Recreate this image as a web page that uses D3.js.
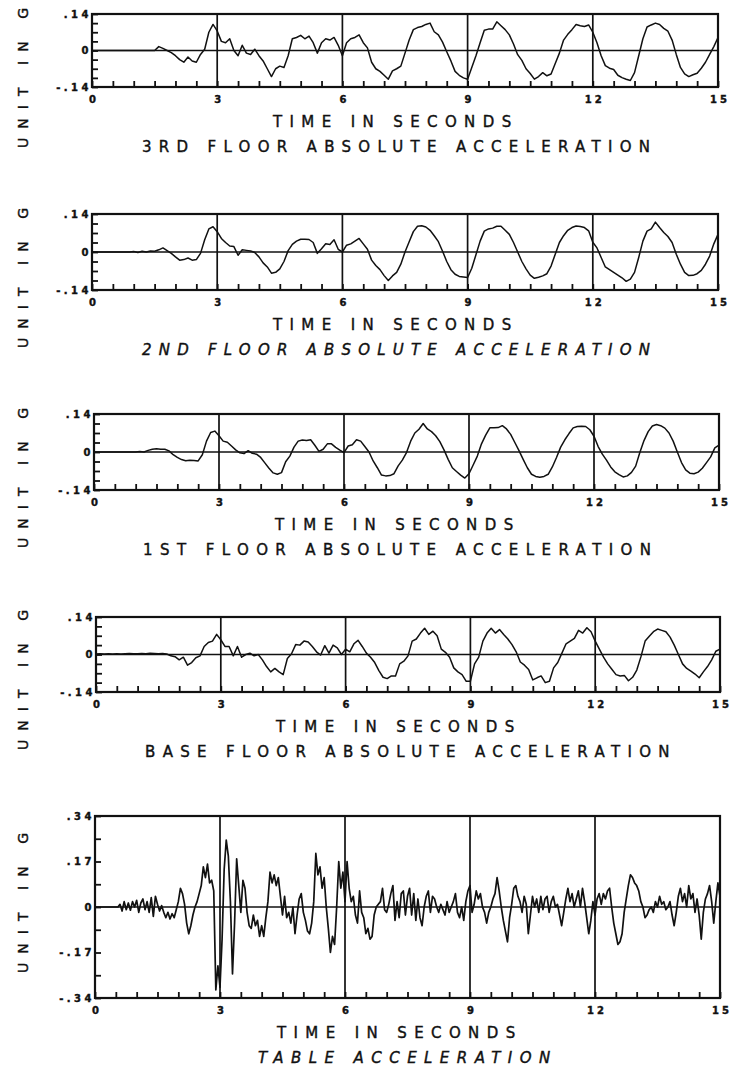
<!DOCTYPE html>
<html>
<head>
<meta charset="utf-8">
<script src="https://cdn.jsdelivr.net/npm/d3@7"></script>
<style>
  body { margin: 0; background: #fff; }
  text { font-family: "DejaVu Sans", sans-serif; fill: #111; stroke: #111; stroke-width: 0.4; }
</style>
</head>
<body>
<svg id="chart" width="738" height="1069"></svg>
<script>
// acceleration records (unit: g)
// floor records are sampled every 0.1 s, the table record every 0.05 s
var floorStep = 0.1
var tableStep = 0.05

var floor3 = [
  0, 0, 0, 0, 0, 0, 0, 0, 0, 0,
  0, 0, 0, 0, 0, 0, 0.015, 0.008, 0.0, -0.008,
  -0.02, -0.035, -0.045, -0.025, -0.04, -0.045, -0.015, 0.005, 0.07, 0.1,
  0.075, 0.035, 0.03, 0.045, 0.0, -0.02, 0.02, -0.01, -0.015, 0.005,
  -0.02, -0.04, -0.07, -0.1, -0.07, -0.06, -0.065, -0.02, 0.045, 0.05,
  0.058, 0.045, 0.055, 0.03, -0.01, 0.03, 0.045, 0.04, 0.05, 0.02,
  -0.02, 0.03, 0.045, 0.05, 0.06, 0.03, 0.01, -0.045, -0.07, -0.08,
  -0.095, -0.11, -0.078, -0.07, -0.06, -0.01, 0.04, 0.08, 0.088, 0.092,
  0.1, 0.105, 0.072, 0.06, 0.032, -0.005, -0.04, -0.08, -0.095, -0.105,
  -0.11, -0.065, -0.02, 0.03, 0.078, 0.082, 0.082, 0.11, 0.095, 0.08,
  0.06, 0.025, -0.016, -0.038, -0.07, -0.088, -0.11, -0.1, -0.085, -0.097,
  -0.09, -0.05, -0.01, 0.04, 0.062, 0.08, 0.1, 0.095, 0.092, 0.098,
  0.07, 0.03, -0.02, -0.058, -0.068, -0.073, -0.095, -0.104, -0.11, -0.115,
  -0.085, -0.02, 0.045, 0.09, 0.098, 0.105, 0.1, 0.085, 0.074, 0.04,
  -0.015, -0.065, -0.09, -0.1, -0.093, -0.087, -0.068, -0.045, -0.015, 0.015,
  0.05
]

var floor2 = [
  0, 0, 0, 0, 0, 0, 0, 0, 0, 0,
  0.002, -0.002, 0.003, 0.0, 0.004, 0.003, 0.008, 0.015, 0.005, -0.005,
  -0.018, -0.03, -0.028, -0.022, -0.03, -0.028, -0.005, 0.045, 0.085, 0.093,
  0.075, 0.05, 0.035, 0.022, 0.02, -0.012, 0.008, 0.006, 0.004, -0.002,
  -0.018, -0.04, -0.055, -0.078, -0.075, -0.062, -0.035, 0.005, 0.028, 0.04,
  0.047, 0.047, 0.046, 0.035, -0.005, 0.012, 0.03, 0.028, 0.045, 0.01,
  0.0, 0.025, 0.03, 0.04, 0.05, 0.03, 0.01, -0.03, -0.05, -0.065,
  -0.087, -0.105, -0.088, -0.075, -0.045, 0.0, 0.038, 0.075, 0.095, 0.097,
  0.092, 0.08, 0.06, 0.038, 0.003, -0.035, -0.065, -0.082, -0.09, -0.092,
  -0.094, -0.06, -0.01, 0.04, 0.077, 0.085, 0.088, 0.095, 0.095, 0.08,
  0.065, 0.035, 0.0, -0.035, -0.062, -0.085, -0.097, -0.093, -0.088, -0.08,
  -0.052, -0.008, 0.035, 0.06, 0.08, 0.09, 0.096, 0.094, 0.09, 0.078,
  0.036, 0.015, -0.02, -0.055, -0.065, -0.075, -0.085, -0.095, -0.108, -0.1,
  -0.075, -0.02, 0.04, 0.077, 0.085, 0.11, 0.09, 0.072, 0.057, 0.035,
  -0.008, -0.045, -0.075, -0.087, -0.086, -0.08, -0.068, -0.045, -0.015, 0.03,
  0.065
]

var floor1 = [
  0, 0, 0, 0, 0, 0, 0, 0, 0, 0,
  0, 0.002, 0.0, 0.006, 0.01, 0.012, 0.01, 0.01, 0.004, -0.01,
  -0.02, -0.028, -0.032, -0.03, -0.031, -0.033, -0.01, 0.04, 0.072, 0.077,
  0.06, 0.04, 0.036, 0.022, 0.008, -0.003, -0.006, 0.005, -0.005, -0.008,
  -0.02, -0.04, -0.06, -0.077, -0.082, -0.076, -0.036, -0.015, 0.018, 0.04,
  0.044, 0.042, 0.045, 0.025, 0.002, 0.01, 0.03, 0.03, 0.017, 0.007,
  -0.002, 0.022, 0.027, 0.045, 0.04, 0.02, 0.0, -0.033, -0.058, -0.085,
  -0.088, -0.087, -0.08, -0.051, -0.03, -0.002, 0.04, 0.07, 0.084, 0.105,
  0.085, 0.075, 0.06, 0.038, 0.008, -0.027, -0.058, -0.072, -0.085, -0.096,
  -0.08, -0.048, -0.015, 0.03, 0.062, 0.089, 0.089, 0.09, 0.097, 0.085,
  0.065, 0.035, 0.005, -0.027, -0.058, -0.082, -0.09, -0.093, -0.09, -0.082,
  -0.055, -0.02, 0.018, 0.045, 0.068, 0.089, 0.094, 0.095, 0.094, 0.082,
  0.058, 0.02, -0.008, -0.03, -0.055, -0.073, -0.083, -0.092, -0.088, -0.075,
  -0.052, -0.002, 0.042, 0.075, 0.096, 0.101, 0.097, 0.088, 0.07, 0.04,
  0.0, -0.039, -0.066, -0.078, -0.08, -0.074, -0.06, -0.039, -0.018, 0.015,
  0.025
]

var floorBase = [
  0.002, 0.003, 0.002, 0.003, 0.002, 0.003, 0.002, 0.003, 0.004, 0.003,
  0.003, 0.004, 0.003, 0.005, 0.004, 0.003, 0.004, 0.002, -0.005, -0.008,
  -0.02, -0.01, -0.04, -0.03, -0.012, -0.005, 0.03, 0.045, 0.05, 0.075,
  0.055, 0.03, 0.03, -0.005, 0.03, -0.01, 0.0, 0.005, -0.005, 0.0,
  -0.02, -0.045, -0.065, -0.052, -0.065, -0.075, -0.015, 0.003, 0.037, 0.035,
  0.05, 0.047, 0.03, 0.01, -0.002, 0.033, 0.005, 0.035, 0.025, 0.0,
  0.02, 0.01, 0.04, 0.053, 0.03, 0.005, -0.01, -0.03, -0.06, -0.085,
  -0.09, -0.08, -0.08, -0.035, -0.025, -0.005, 0.05, 0.058, 0.08, 0.098,
  0.075, 0.087, 0.07, 0.02, 0.008, -0.01, -0.05, -0.065, -0.075, -0.1,
  -0.1, -0.035, -0.01, 0.05, 0.08, 0.098, 0.08, 0.093, 0.075, 0.058,
  0.037, 0.01, -0.028, -0.04, -0.056, -0.095, -0.087, -0.08, -0.105, -0.1,
  -0.05, -0.03, 0.005, 0.04, 0.05, 0.06, 0.09, 0.08, 0.1, 0.085,
  0.05, 0.02, -0.01, -0.035, -0.055, -0.075, -0.08, -0.078, -0.098, -0.085,
  -0.058, -0.008, 0.05, 0.068, 0.085, 0.095, 0.09, 0.085, 0.065, 0.035,
  0.0, -0.035, -0.052, -0.062, -0.073, -0.087, -0.065, -0.045, -0.02, 0.012,
  0.02
]

var table = [
  0, 0, 0, 0, 0, 0, 0, 0, 0, 0, 0, 0, 0.01, -0.015, 0.02, -0.01, 0.015, -0.012, 0.02, 0.0,
  0.025, -0.02, 0.015, 0.03, -0.01, 0.02, -0.02, 0.035, -0.035, 0.04, 0.01, -0.015, 0.005, -0.02, -0.04, -0.02, -0.045, -0.025, -0.04, -0.01,
  0.02, 0.07, 0.05, 0.01, -0.06, -0.1, -0.07, -0.03, 0.0, 0.02, 0.05, 0.08, 0.15, 0.11, 0.16, 0.09, 0.1, 0.06, -0.31, -0.22,
  -0.3, -0.12, 0.14, 0.25, 0.19, 0.02, -0.25, -0.06, 0.18, 0.08, -0.02, 0.1, 0.07, -0.02, -0.07, -0.08, -0.03, -0.07, -0.05, -0.11,
  -0.07, -0.11, -0.04, 0.02, 0.13, 0.09, 0.12, 0.08, 0.11, 0.04, -0.03, 0.04, -0.04, -0.02, -0.06, 0.0, -0.1, -0.03, 0.03, 0.05,
  -0.02, -0.05, -0.09, -0.1, -0.06, 0.02, 0.2, 0.12, 0.15, 0.07, 0.11, 0.0, -0.08, -0.17, -0.11, -0.14, 0.0, 0.17, 0.07, 0.13,
  0.02, 0.17, 0.07, 0.02, 0.04, -0.03, -0.06, 0.06, -0.02, -0.04, -0.1, -0.08, -0.12, -0.11, -0.03, 0.0, 0.01, 0.02, 0.07, -0.01,
  -0.02, 0.01, 0.05, 0.08, -0.05, 0.02, -0.04, 0.05, 0.06, -0.03, 0.04, 0.07, -0.03, 0.05, -0.05, 0.03, -0.04, -0.07, 0.0, 0.04,
  0.06, -0.02, 0.04, 0.03, 0.0, -0.02, 0.01, -0.01, -0.03, 0.02, -0.02, 0.0, 0.02, 0.05, -0.02, -0.04, 0.0, -0.05, 0.02, 0.06,
  0.08, -0.02, 0.01, 0.06, 0.03, 0.05, 0.0, -0.02, -0.06, -0.02, 0.0, 0.03, 0.05, 0.11, 0.06, 0.0, -0.05, -0.09, -0.13, -0.04,
  0.01, 0.07, 0.08, 0.04, 0.02, -0.02, 0.04, 0.01, -0.1, -0.03, 0.04, 0.0, 0.03, -0.02, 0.04, -0.01, 0.03, 0.04, -0.02, 0.02,
  0.04, 0.0, 0.01, -0.03, -0.07, -0.02, 0.03, 0.07, 0.02, 0.05, 0.0, 0.03, 0.06, 0.0, 0.07, 0.02, -0.04, -0.1, -0.05, 0.02,
  -0.03, 0.03, 0.05, 0.01, 0.05, 0.03, 0.06, 0.07, 0.0, -0.06, -0.1, -0.14, -0.13, -0.1, -0.02, 0.03, 0.08, 0.12, 0.11, 0.09,
  0.08, 0.06, 0.02, 0.0, -0.04, -0.03, -0.01, 0.0, -0.02, 0.02, 0.0, 0.04, 0.01, 0.02, -0.01, 0.0, 0.02, -0.03, -0.07, -0.02,
  0.04, 0.07, 0.02, 0.05, 0.0, 0.08, 0.03, 0.05, -0.02, 0.03, -0.03, -0.12, -0.02, 0.03, 0.05, 0.08, 0.02, -0.06, 0.02, 0.09,
  0.04
]

// axis labels
var xLabelValues = [0, 3, 6, 9, 12, 15]
var xLabels = ["0", "3", "6", "9", "12", "15"]
var gridTimes = [3, 6, 9, 12]
var floorYValues = [0.14, 0, -0.14]
var floorYLabels = [".14", "0", "-.14"]
var tableYValues = [0.34, 0.17, 0, -0.17, -0.34]
var tableYLabels = [".34", ".17", "0", "-.17", "-.34"]
var titles = [
  "3RD FLOOR ABSOLUTE ACCELERATION",
  "2ND FLOOR ABSOLUTE ACCELERATION",
  "1ST FLOOR ABSOLUTE ACCELERATION",
  "BASE FLOOR ABSOLUTE ACCELERATION",
  "TABLE ACCELERATION"
]

// layout of each panel on the page
var panels = [
  {values: floor3, step: floorStep, max: 0.14, yv: floorYValues, yl: floorYLabels, top: 14, bottom: 87, left: 92, right: 718, titleX: 142, timeX: 273, unitY: 78, italic: false},
  {values: floor2, step: floorStep, max: 0.14, yv: floorYValues, yl: floorYLabels, top: 214, bottom: 290, left: 92, right: 718, titleX: 142, timeX: 273, unitY: 278, italic: true},
  {values: floor1, step: floorStep, max: 0.14, yv: floorYValues, yl: floorYLabels, top: 414, bottom: 490, left: 94, right: 719, titleX: 143, timeX: 275, unitY: 478, italic: false},
  {values: floorBase, step: floorStep, max: 0.14, yv: floorYValues, yl: floorYLabels, top: 617, bottom: 692, left: 96, right: 720, titleX: 145, timeX: 276, unitY: 680, italic: false},
  {values: table, step: tableStep, max: 0.34, yv: tableYValues, yl: tableYLabels, top: 816, bottom: 998, left: 95, right: 720, titleX: 258, timeX: 277, unitY: 903, italic: true}
]

var svg = d3.select("#chart")
var ink = "#111"
var pitch = 16.6 // character pitch of the plotter lettering

panels.forEach(function (p, k) {
  var width = p.right - p.left
  var height = p.bottom - p.top

  var x = d3.scaleLinear().domain([0, 15]).range([0, width])
  var y = d3.scaleLinear().domain([-p.max, p.max]).range([height, 0])

  var g = svg.append("g").attr("transform", "translate(" + p.left + "," + p.top + ")")

  // inward ticks on the bottom (every 0.5 s)
  var bx = g.append("g")
    .attr("transform", "translate(0," + height + ")")
    .call(d3.axisBottom(x).tickValues(d3.range(0, 15.001, 0.5)).tickSizeInner(-6).tickSizeOuter(0).tickFormat(""))
  bx.select(".domain").remove()
  bx.selectAll("line").attr("stroke", ink).attr("stroke-width", 1.8)

  // time labels
  var lx = g.append("g")
    .attr("transform", "translate(0," + height + ")")
    .call(d3.axisBottom(x).tickValues(xLabelValues).tickSize(0).tickPadding(9).tickFormat(function (d, i) { return xLabels[i] }))
  lx.select(".domain").remove()
  lx.selectAll("text")
    .attr("font-size", 10).attr("font-weight", "bold")
    .attr("letter-spacing", 3).attr("dx", 1.5)
    .style("font-family", "'DejaVu Sans', sans-serif").attr("fill", ink)

  // inward ticks on the left
  var ly = g.append("g")
    .call(d3.axisLeft(y).tickValues(d3.range(-4, 5).map(function (i) { return i * p.max / 4 })).tickSizeInner(-6).tickSizeOuter(0).tickFormat(""))
  ly.select(".domain").remove()
  ly.selectAll("line").attr("stroke", ink).attr("stroke-width", 1.8)

  // value labels
  var vy = g.append("g")
    .call(d3.axisLeft(y).tickValues(p.yv).tickSize(0).tickPadding(0).tickFormat(function (d, i) { return p.yl[i] }))
  vy.select(".domain").remove()
  vy.selectAll("text")
    .attr("font-size", 10).attr("font-weight", "bold")
    .attr("letter-spacing", 3.5)
    .style("font-family", "'DejaVu Sans', sans-serif").attr("fill", ink)

  // grid lines at 3 s intervals and the zero line
  g.selectAll(".grid").data(gridTimes).enter().append("line")
    .attr("x1", function (d) { return x(d) }).attr("x2", function (d) { return x(d) })
    .attr("y1", 0).attr("y2", height)
    .attr("stroke", ink).attr("stroke-width", 1.7)

  g.append("line")
    .attr("x1", 0).attr("x2", width)
    .attr("y1", y(0)).attr("y2", y(0))
    .attr("stroke", ink).attr("stroke-width", 1.3)

  // the record
  var line = d3.line()
    .x(function (d, i) { return x(i * p.step) })
    .y(function (d) { return y(d) })

  g.append("path")
    .datum(p.values)
    .attr("d", line)
    .attr("fill", "none")
    .attr("stroke", ink)
    .attr("stroke-width", p.step < 0.1 ? 1.7 : 1.5)
    .attr("stroke-linejoin", "round")

  // frame
  g.append("rect")
    .attr("width", width).attr("height", height)
    .attr("fill", "none").attr("stroke", ink).attr("stroke-width", 2.2)

  // axis captions
  var t1 = "TIME IN SECONDS"
  svg.append("text")
    .attr("x", p.timeX).attr("y", p.bottom + 40)
    .attr("font-size", 15)
    .attr("textLength", (t1.length - 1) * 16.3 + 10)
    .attr("lengthAdjust", "spacing")
    .text(t1)

  svg.append("text")
    .attr("x", p.titleX).attr("y", p.bottom + 65)
    .attr("font-size", 15)
    .attr("textLength", (titles[k].length - 1) * pitch + 10)
    .attr("lengthAdjust", "spacing")
    .attr("font-style", p.italic ? "italic" : "normal")
    .text(titles[k])

  var t2 = "UNIT IN G"
  svg.append("text")
    .attr("transform", "translate(28," + p.unitY + ") rotate(-90)")
    .attr("text-anchor", "middle")
    .attr("font-size", 14)
    .attr("textLength", 140)
    .attr("lengthAdjust", "spacing")
    .text(t2)
})
</script>
</body>
</html>
